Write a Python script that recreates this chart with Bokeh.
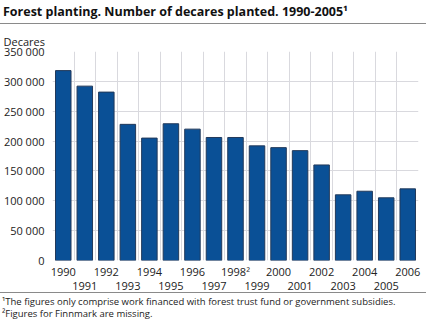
from bokeh.plotting import figure
from bokeh.models import FixedTicker, Range1d, LinearAxis, Div
from bokeh.layouts import column
from bokeh.embed import file_html
from bokeh.resources import INLINE

years = list(range(1990, 2007))
decares = [318000, 292000, 282000, 228000, 205000, 229000, 220000, 206000,
           206000, 192000, 189000, 184000, 160000, 110000, 116000, 105000, 120000]
y_ticks = [0, 50000, 100000, 150000, 200000, 250000, 300000, 350000]
y_tick_labels = ["0", "50 000", "100 000", "150 000", "200 000", "250 000", "300 000", "350 000"]
title_text = "Forest planting. Number of decares planted. 1990-2005\u00b9"
unit_text = "Decares"
notes = ["\u00b9The figures only comprise work financed with forest trust fund or government subsidies.",
         "\u00b2Figures for Finnmark are missing."]
note_marks = {1998: "\u00b2"}

FONT = "Open Sans"
TXT = "#222222"
W = 426

title_div = Div(text=title_text, width=W, height=23, margin=0,
                styles={"font-family": FONT, "font-weight": "bold", "font-size": "12.5px",
                        "color": "#111111", "line-height": "23px", "padding-left": "3px",
                        "border-bottom": "1px solid #8a8a8a", "box-sizing": "content-box",
                        "white-space": "nowrap"})

p = figure(width=W, height=268, output_backend="svg", toolbar_location=None,
           min_border_left=52, min_border_right=8, min_border_top=27, min_border_bottom=32,
           x_range=Range1d(years[0] - 0.5, years[-1] + 0.5), y_range=Range1d(0, 350000),
           margin=0)
p.outline_line_color = None

p.vbar(x=years, top=decares, width=0.72, fill_color="#0a5096", line_color="#22395a", line_width=1)

p.title.text = unit_text
p.title.align = "left"
p.title.offset = -49
p.title.standoff = 6
p.title.text_font = FONT
p.title.text_font_style = "normal"
p.title.text_font_size = "11px"
p.title.text_color = TXT

p.yaxis.ticker = FixedTicker(ticks=y_ticks)
p.yaxis.major_label_overrides = {t: s for t, s in zip(y_ticks, y_tick_labels)}

even_years = years[0::2]
odd_years = years[1::2]
p.xaxis.ticker = FixedTicker(ticks=even_years)
p.xaxis.major_label_overrides = {yv: str(yv) + note_marks.get(yv, "") for yv in even_years}
ax2 = LinearAxis(ticker=FixedTicker(ticks=odd_years),
                 major_label_overrides={yv: str(yv) + note_marks.get(yv, "") for yv in odd_years})
p.add_layout(ax2, "below")

for ax in (p.xaxis[0], ax2, p.yaxis[0]):
    ax.axis_line_color = None
    ax.major_tick_line_color = None
    ax.minor_tick_line_color = None
    ax.major_tick_out = 0
    ax.major_tick_in = 0
    ax.major_label_text_font = FONT
    ax.major_label_text_font_size = "11px"
    ax.major_label_text_color = TXT
p.yaxis.major_label_standoff = 8
p.xaxis[0].major_label_standoff = 3
ax2.major_label_standoff = 0

p.xgrid.ticker = FixedTicker(ticks=[yv - 0.5 for yv in years] + [years[-1] + 0.5])
p.ygrid.ticker = FixedTicker(ticks=y_ticks)
p.xgrid.grid_line_color = "#d9d9de"
p.ygrid.grid_line_color = "#d9d9de"

notes_div = Div(text="<br>".join(notes), width=W, height=31, margin=0,
                styles={"font-family": FONT, "font-size": "9.5px", "color": TXT,
                        "line-height": "12.3px", "padding-left": "2px", "padding-top": "3px",
                        "border-top": "1px solid #8a8a8a", "white-space": "nowrap"})

layout = column(title_div, p, notes_div, spacing=0, margin=0)
open("out.html", "w").write(file_html(layout, INLINE))
